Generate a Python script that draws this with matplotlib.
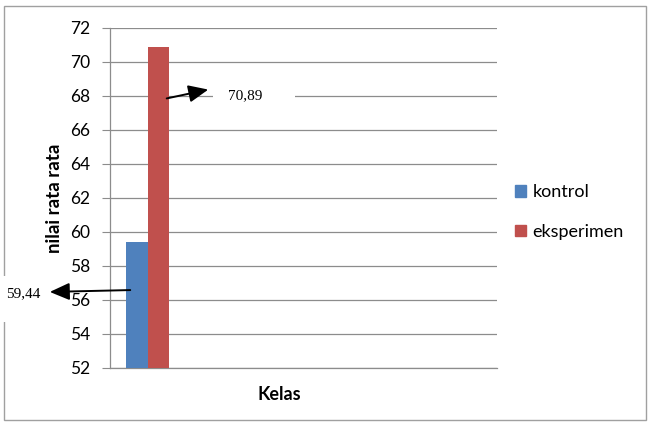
import matplotlib
matplotlib.use("Agg")
import matplotlib.pyplot as plt
from matplotlib.patches import Rectangle, FancyArrowPatch

categories = ["kontrol", "eksperimen"]
values = [59.44, 70.89]
value_labels = ["59,44", "70,89"]
colors = ["#4F81BD", "#C0504D"]
yticks = [52, 54, 56, 58, 60, 62, 64, 66, 68, 70, 72]

W, H = 652, 424
fig = plt.figure(figsize=(W / 100, H / 100), dpi=100)
plt.rcParams['font.family'] = ['Lato', 'DejaVu Sans']

def fx(px):
    return px / W

def fy(py):
    return 1 - py / H

# outer chart border
fig.patches.append(Rectangle((fx(4), fy(420)), fx(642), 1 - fy(414), transform=fig.transFigure,
                             fill=False, edgecolor="#A0A0A0", linewidth=1.0, zorder=0))

ax_left, ax_right, ax_top, ax_bottom = 110, 497, 28, 368
ax = fig.add_axes([fx(ax_left), fy(ax_bottom), fx(ax_right - ax_left), (ax_bottom - ax_top) / H])
w = 1.0
xs = [-w / 2, w / 2]
for x, v, c, lab in zip(xs, values, colors, categories):
    ax.bar(x, v - 52, bottom=52, width=w, color=c, label=lab, zorder=3)

px_per_unit = 21.25
xl = -37.5 / px_per_unit
ax.set_xlim(xl, xl + (ax_right - ax_left) / px_per_unit)
ax.set_ylim(52, 72)
ax.set_yticks(yticks)
ax.set_yticklabels([str(t) for t in yticks], fontsize=12.5)
ax.set_xticks([])
ax.grid(axis="y", color="#8C8C8C", linewidth=0.9, zorder=0)
for s in ["top", "right"]:
    ax.spines[s].set_visible(False)
for s in ["left", "bottom"]:
    ax.spines[s].set_color("#8C8C8C")
    ax.spines[s].set_linewidth(0.9)
ax.tick_params(axis="y", length=6, color="#8C8C8C", pad=8)

fig.text(fx(55), fy(198), "nilai rata rata", fontsize=13.5, fontweight="bold",
         rotation=90, ha="center", va="center")
fig.text(fx(279), fy(395), "Kelas", fontsize=13, fontweight="bold", ha="center", va="center")

# white callout boxes
for (x0, y0, x1, y1) in [(213, 85, 295, 108), (0, 276, 45, 322)]:
    fig.add_artist(Rectangle((fx(x0), fy(y1)), fx(x1 - x0), (y1 - y0) / H,
                             transform=fig.transFigure, facecolor="white",
                             edgecolor="none", zorder=4))

# annotations
fig.text(fx(245), fy(96), value_labels[1], family="Liberation Serif", fontsize=11,
         ha="center", va="center", zorder=5)
fig.text(fx(23), fy(294), value_labels[0], family="Liberation Serif", fontsize=11,
         ha="center", va="center", zorder=5)

fig.add_artist(FancyArrowPatch((fx(164), fy(99)), (fx(211), fy(89)),
               transform=fig.transFigure, arrowstyle="-|>,head_length=8,head_width=3.5",
               color="black", lw=1.4, mutation_scale=1.5, zorder=6))
fig.add_artist(FancyArrowPatch((fx(133), fy(290)), (fx(47), fy(292)),
               transform=fig.transFigure, arrowstyle="-|>,head_length=8,head_width=3.5",
               color="black", lw=1.4, mutation_scale=1.5, zorder=6))

handles = [Rectangle((0, 0), 1, 1, color=c) for c in colors]
fig.legend(handles, categories, loc="center left", bbox_to_anchor=(fx(499), fy(212)),
           frameon=False, fontsize=13, handlelength=0.6, handleheight=0.6,
           handletextpad=0.35, labelspacing=1.3)

fig.savefig("out.png", dpi=100)
